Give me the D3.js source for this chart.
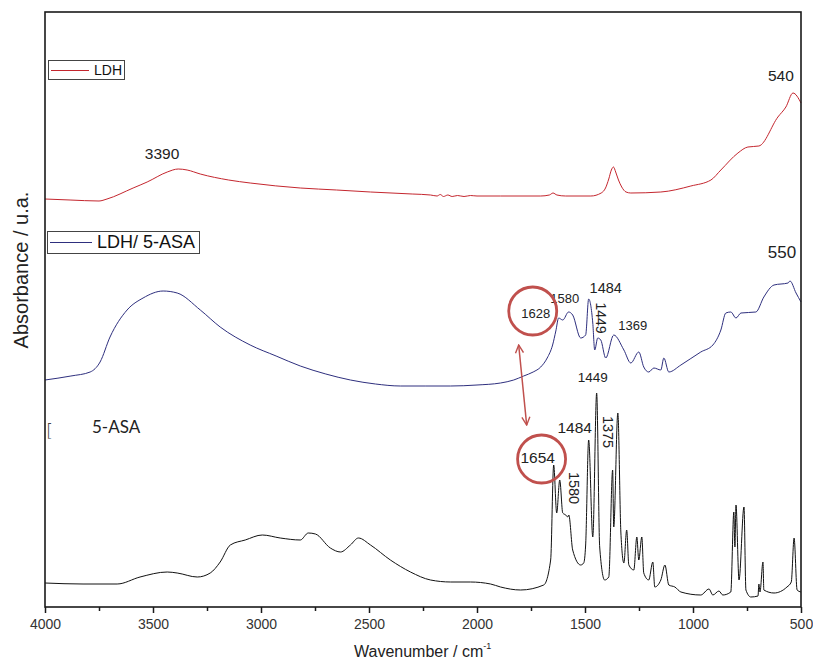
<!DOCTYPE html>
<html>
<head>
<meta charset="utf-8">
<script src="https://cdn.jsdelivr.net/npm/d3@7"></script>
<style>
  html, body { margin: 0; padding: 0; background: #fff; }
  svg { display: block; font-family: "Liberation Sans", Arial, sans-serif; }
</style>
</head>
<body>
<svg id="chart" width="813" height="662"></svg>
<script>
// FTIR spectra: [wavenumber (cm-1), absorbance (a.u., offset for stacking)]
const ldh = [
  [4000, 4.08], [3884, 4.07], [3750, 4.06], [3713, 4.08], [3592, 4.19], [3527, 4.25],
  [3434, 4.35], [3383, 4.38], [3342, 4.37], [3281, 4.33], [3150, 4.27], [3050, 4.24],
  [2818, 4.19], [2650, 4.17], [2493, 4.15], [2300, 4.13], [2215, 4.12], [2185, 4.11],
  [2170, 4.125], [2155, 4.105], [2135, 4.12], [2115, 4.105], [2090, 4.115], [2060, 4.105],
  [2030, 4.115], [2000, 4.11], [1891, 4.11], [1705, 4.11], [1665, 4.12], [1648, 4.14],
  [1630, 4.12], [1590, 4.11], [1473, 4.11], [1425, 4.14], [1405, 4.19], [1390, 4.28],
  [1378, 4.37], [1368, 4.40], [1358, 4.35], [1345, 4.27], [1330, 4.20], [1310, 4.15],
  [1288, 4.14], [1149, 4.15], [1010, 4.21], [917, 4.27], [871, 4.37], [792, 4.54],
  [746, 4.60], [695, 4.61], [607, 4.90], [570, 5.00], [537, 5.14], [500, 5.04]
];

const ldhAsa = [
  [4000, 2.27], [3880, 2.31], [3791, 2.35], [3745, 2.45], [3699, 2.70], [3620, 2.97],
  [3546, 3.09], [3453, 3.16], [3388, 3.14], [3281, 2.97], [3189, 2.80], [3050, 2.62],
  [2930, 2.51], [2818, 2.41], [2700, 2.33], [2586, 2.27], [2470, 2.23], [2355, 2.21],
  [2240, 2.21], [2122, 2.21], [2000, 2.22], [1891, 2.24], [1830, 2.27], [1784, 2.31],
  [1740, 2.35], [1705, 2.40], [1675, 2.49], [1650, 2.62], [1635, 2.76], [1622, 2.89],
  [1603, 2.87], [1576, 2.95], [1557, 2.92], [1520, 2.69], [1497, 2.72], [1483, 3.08],
  [1464, 2.84], [1455, 2.57], [1441, 2.69], [1427, 2.67], [1404, 2.49], [1367, 2.72],
  [1320, 2.57], [1288, 2.44], [1251, 2.55], [1228, 2.40], [1205, 2.35], [1181, 2.39],
  [1149, 2.37], [1135, 2.49], [1112, 2.35], [1056, 2.42], [964, 2.55], [908, 2.62],
  [871, 2.77], [848, 2.94], [825, 2.95], [801, 2.89], [778, 2.94], [709, 2.95],
  [672, 3.10], [625, 3.22], [560, 3.24], [551, 3.26], [523, 3.14], [500, 3.05]
];

const asa = [
  [4000, 0.24], [3824, 0.23], [3666, 0.23], [3560, 0.30], [3434, 0.35], [3388, 0.34],
  [3295, 0.30], [3235, 0.34], [3189, 0.45], [3142, 0.62], [3073, 0.67], [2994, 0.72],
  [2911, 0.69], [2818, 0.67], [2781, 0.74], [2748, 0.73], [2679, 0.59], [2632, 0.55],
  [2586, 0.62], [2549, 0.69], [2493, 0.62], [2401, 0.47], [2308, 0.35], [2215, 0.27],
  [2122, 0.25], [2030, 0.25], [1937, 0.23], [1891, 0.20], [1798, 0.17], [1691, 0.22],
  [1659, 0.47], [1645, 1.42], [1631, 0.94], [1617, 1.27], [1603, 0.94], [1589, 0.92],
  [1580, 0.90], [1575, 0.92], [1557, 0.57], [1520, 0.42], [1506, 0.44], [1497, 0.62],
  [1483, 1.67], [1464, 0.70], [1446, 2.14], [1432, 0.60], [1409, 0.27], [1390, 0.30],
  [1372, 1.37], [1367, 0.80], [1348, 1.94], [1334, 0.75], [1320, 0.44], [1307, 0.77],
  [1297, 0.42], [1274, 0.37], [1260, 0.70], [1251, 0.47], [1237, 0.70], [1228, 0.34],
  [1205, 0.27], [1186, 0.45], [1177, 0.20], [1149, 0.27], [1130, 0.42], [1112, 0.22],
  [1084, 0.20], [1056, 0.15], [964, 0.12], [926, 0.18], [908, 0.12], [880, 0.16],
  [862, 0.12], [825, 0.15], [811, 0.95], [806, 0.60], [801, 1.02], [787, 0.27],
  [764, 1.00], [755, 0.17], [732, 0.10], [699, 0.11], [695, 0.23], [690, 0.15],
  [676, 0.45], [672, 0.17], [625, 0.14], [565, 0.20], [545, 0.25], [532, 0.69],
  [518, 0.17], [500, 0.15]
];

const xTicks = [4000, 3500, 3000, 2500, 2000, 1500, 1000, 500];
const xMinorTicks = [3750, 3250, 2750, 2250, 1750, 1250, 750];

// Peak labels: [text, wavenumber, absorbance, rotated]
const ldhLabels = [["3390", 3458, 4.48, false], ["540", 593, 5.26, false]];
const ldhAsaLabels = [
  ["550", 588, 3.49, false], ["1628", 1728, 2.89, false], ["1580", 1594, 3.04, false],
  ["1484", 1404, 3.14, false], ["1449", 1427, 2.89, true], ["1369", 1279, 2.77, false]
];
const asaLabels = [
  ["1449", 1464, 2.25, false], ["1484", 1548, 1.74, false], ["1375", 1395, 1.75, true],
  ["1654", 1719, 1.44, false], ["1580", 1552, 1.19, true]
];
// Circled bands and the arrow linking them: [wavenumber, absorbance]
const circledBands = [[1742, 2.96], [1701, 1.48]];
const shiftArrow = [[1807, 2.62], [1770, 1.82]];

const svg = d3.select("#chart");
const plotLeft = 45, plotRight = 801, plotTop = 12, plotBottom = 607;

const x = d3.scaleLinear().domain([4000, 500]).range([plotLeft, plotRight]);
const y = d3.scaleLinear().domain([0, 5.95]).range([plotBottom, plotTop]);

const line = d3.line().x(d => x(d[0])).y(d => y(d[1])).curve(d3.curveMonotoneX);

// spectra
const series = [
  { data: asa, color: "#111111" },
  { data: ldhAsa, color: "#2e2f7e" },
  { data: ldh, color: "#c4262e" }
];
svg.append("g").selectAll("path").data(series).join("path")
  .attr("d", d => line(d.data))
  .attr("fill", "none")
  .attr("stroke", d => d.color)
  .attr("stroke-width", 1)
  .attr("stroke-linejoin", "round");

// frame
svg.append("rect")
  .attr("x", plotLeft).attr("y", plotTop)
  .attr("width", plotRight - plotLeft).attr("height", plotBottom - plotTop)
  .attr("fill", "none").attr("stroke", "#1a1a1a").attr("stroke-width", 1.6);

// x axis
const gx = svg.append("g").attr("transform", `translate(0,${plotBottom})`)
  .call(d3.axisBottom(x).tickValues(xTicks).tickSize(6).tickPadding(6).tickFormat(d3.format("d")));
gx.select(".domain").remove();
gx.selectAll(".tick line").attr("stroke", "#1a1a1a").attr("stroke-width", 1.5);
gx.selectAll(".tick text").attr("font-size", 14).attr("fill", "#333")
  .attr("font-family", "Liberation Sans, Arial, sans-serif");

const gxm = svg.append("g").attr("transform", `translate(0,${plotBottom})`)
  .call(d3.axisBottom(x).tickValues(xMinorTicks).tickSize(4).tickFormat(""));
gxm.select(".domain").remove();
gxm.selectAll(".tick line").attr("stroke", "#1a1a1a").attr("stroke-width", 1.5);

// axis titles
const xt = svg.append("text")
  .attr("x", 354).attr("y", 657)
  .attr("font-size", 16).attr("fill", "#222");
xt.append("tspan").text("Wavenumber / cm");
xt.append("tspan").attr("dy", -8).attr("font-size", 9).text("-1");

svg.append("text")
  .attr("transform", "translate(28,270) rotate(-90)")
  .attr("text-anchor", "middle").attr("font-size", 20).attr("fill", "#222")
  .text("Absorbance / u.a.");

// legends
function legend(x0, y0, w, h, color, label, fs, lineLen) {
  const g = svg.append("g");
  g.append("rect").attr("x", x0 + 0.5).attr("y", y0 + 0.5).attr("width", w).attr("height", h)
    .attr("fill", "#fff").attr("stroke", "#444").attr("stroke-width", 1);
  g.append("line").attr("x1", x0 + 3).attr("x2", x0 + 3 + lineLen)
    .attr("y1", Math.round(y0 + h / 2) + 0.5).attr("y2", Math.round(y0 + h / 2) + 0.5)
    .attr("stroke", color).attr("stroke-width", 1);
  g.append("text").attr("x", x0 + lineLen + 8).attr("y", y0 + h / 2 + fs * 0.36)
    .attr("font-size", fs).attr("fill", "#111").text(label);
}
legend(48, 60, 76, 19, "#c4262e", "LDH", 14, 38);
legend(47, 231, 152, 22, "#2e2f7e", "LDH/ 5-ASA", 18, 42);

svg.append("text").attr("x", 46).attr("y", 437)
  .attr("font-family", "DejaVu Sans, sans-serif").attr("font-size", 18).attr("fill", "#444")
  .attr("font-weight", 200).text("[");
svg.append("text").attr("x", 92).attr("y", 433)
  .attr("font-family", "Lato, sans-serif").attr("font-size", 17).attr("fill", "#222")
  .text("5-ASA");

// peak labels
function peakLabels(list, sizes) {
  svg.append("g").selectAll("text").data(list).join("text")
    .attr("text-anchor", "middle")
    .attr("font-size", (d, i) => sizes[i])
    .attr("fill", "#222")
    .attr("transform", d => d[3]
      ? `translate(${x(d[1])},${y(d[2])}) rotate(90)`
      : `translate(${x(d[1])},${y(d[2])})`)
    .attr("dy", d => d[3] ? "0.35em" : 0)
    .text(d => d[0]);
}
peakLabels(ldhLabels, [15.5, 15.5]);
peakLabels(ldhAsaLabels, [17, 13, 13, 14.5, 14, 13]);
peakLabels(asaLabels, [13.5, 15.5, 14.5, 15.5, 14.5]);

// circled bands and arrow
const red = "#c0504d";
svg.append("g").selectAll("circle").data(circledBands).join("circle")
  .attr("cx", d => x(d[0])).attr("cy", d => y(d[1])).attr("r", 24)
  .attr("fill", "none").attr("stroke", red).attr("stroke-width", 2.8);

const defs = svg.append("defs");
defs.append("marker").attr("id", "head").attr("viewBox", "0 0 10 10")
  .attr("refX", 9).attr("refY", 5).attr("markerWidth", 10).attr("markerHeight", 10)
  .attr("markerUnits", "userSpaceOnUse").attr("orient", "auto-start-reverse")
  .append("path").attr("d", "M1,1 L9,5 L1,9").attr("fill", "none")
  .attr("stroke", red).attr("stroke-width", 1.4);

svg.append("path")
  .attr("d", d3.line().x(d => x(d[0])).y(d => y(d[1]))(shiftArrow))
  .attr("fill", "none").attr("stroke", red).attr("stroke-width", 1.5)
  .attr("marker-start", "url(#head)").attr("marker-end", "url(#head)");
</script>
</body>
</html>
